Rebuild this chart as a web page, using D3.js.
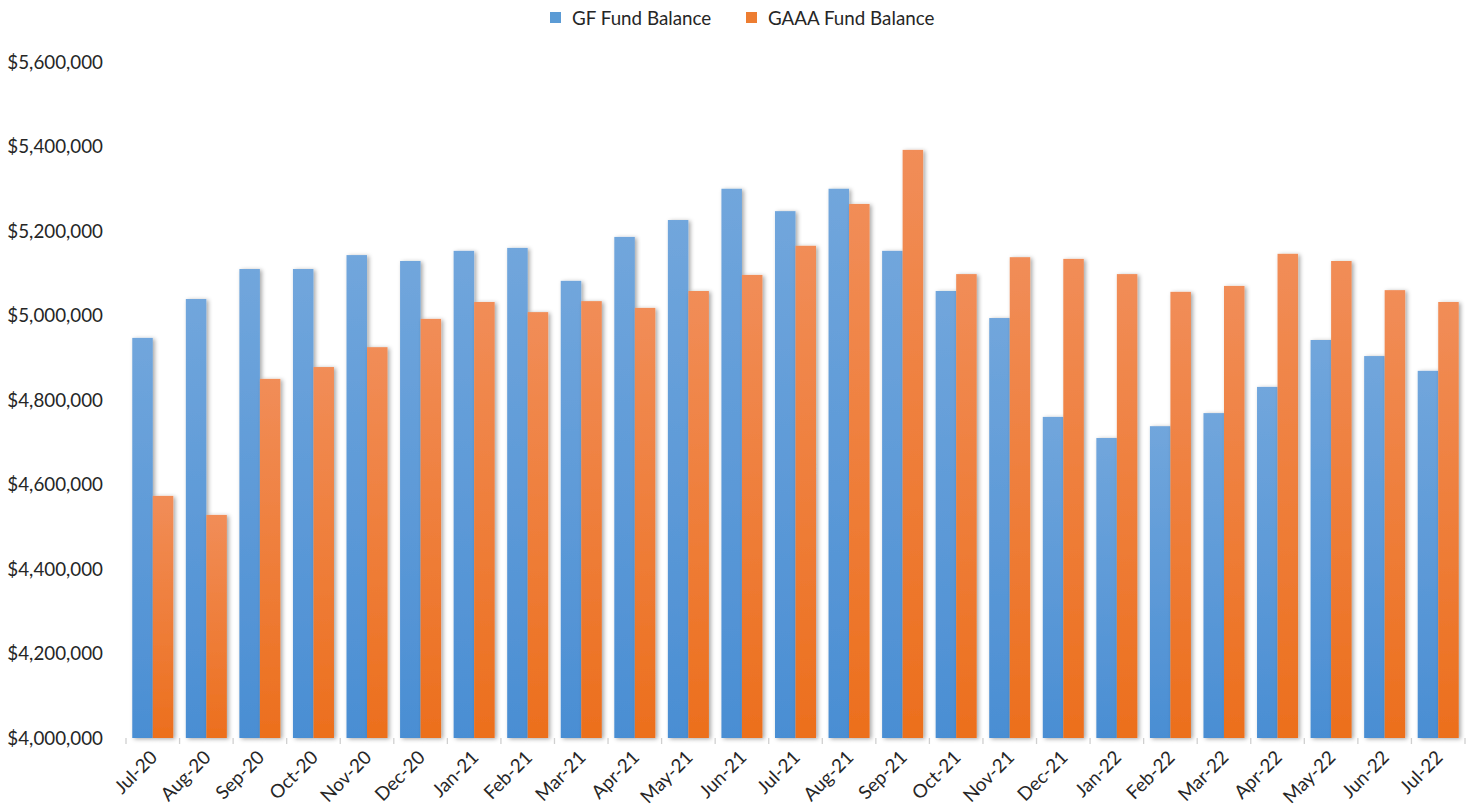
<!DOCTYPE html>
<html>
<head>
<meta charset="utf-8">
<style>
  body { margin: 0; background: #fff; }
  text { font-family: Lato, "Open Sans", sans-serif; fill: #262626; }
</style>
</head>
<body>
<svg width="1474" height="808"></svg>
<script src="https://d3js.org/d3.v7.min.js"></script>
<script>
    var months = ["Jul-20", "Aug-20", "Sep-20", "Oct-20", "Nov-20", "Dec-20",
        "Jan-21", "Feb-21", "Mar-21", "Apr-21", "May-21", "Jun-21",
        "Jul-21", "Aug-21", "Sep-21", "Oct-21", "Nov-21", "Dec-21",
        "Jan-22", "Feb-22", "Mar-22", "Apr-22", "May-22", "Jun-22", "Jul-22"];
    var gfBalance = [4947000, 5039000, 5110000, 5110000, 5143000, 5129000,
        5153000, 5160000, 5082000, 5186000, 5226000, 5300000,
        5247000, 5300000, 5153000, 5058000, 4994000, 4760000,
        4710000, 4738000, 4769000, 4831000, 4942000, 4904000, 4869000];
    var gaaaBalance = [4573000, 4528000, 4850000, 4878000, 4925000, 4992000,
        5032000, 5008000, 5034000, 5018000, 5058000, 5096000,
        5165000, 5264000, 5392000, 5098000, 5138000, 5134000,
        5098000, 5056000, 5070000, 5146000, 5129000, 5060000, 5032000];
    var seriesNames = ["GF Fund Balance", "GAAA Fund Balance"];
    var yTicks = [4000000, 4200000, 4400000, 4600000, 4800000, 5000000, 5200000, 5400000, 5600000];

    var svg = d3.select("svg");
    var plotLeft = 126, plotRight = 1465, plotTop = 62, plotBottom = 738;
    var gap = 0.234;

    var defs = svg.append("defs");
    var grads = [["gradBlue", "#71a6dc", "#4a8ed3"], ["gradOrange", "#f18d58", "#ec6f1d"]];
    grads.forEach(function(g) {
        var lg = defs.append("linearGradient").attr("id", g[0])
            .attr("x1", 0).attr("y1", 0).attr("x2", 0).attr("y2", 1);
        lg.append("stop").attr("offset", "0%").attr("stop-color", g[1]);
        lg.append("stop").attr("offset", "100%").attr("stop-color", g[2]);
    });
    defs.append("filter").attr("id", "shadow")
        .attr("x", "-30%").attr("y", "-10%").attr("width", "160%").attr("height", "130%")
        .append("feDropShadow").attr("dx", 2).attr("dy", 1).attr("stdDeviation", 2)
        .attr("flood-color", "#000").attr("flood-opacity", 0.35);
    defs.append("filter").attr("id", "lineShadow")
        .attr("x", "-5%").attr("y", "-200%").attr("width", "110%").attr("height", "500%")
        .append("feDropShadow").attr("dx", 0).attr("dy", 1).attr("stdDeviation", 1)
        .attr("flood-color", "#000").attr("flood-opacity", 0.2);

    var x = d3.scaleBand().domain(months).range([plotLeft, plotRight])
        .paddingInner(gap).paddingOuter(gap / 2);
    var xSub = d3.scaleBand().domain([0, 1]).range([0, x.bandwidth()]);
    var y = d3.scaleLinear().domain([4000000, 5600000]).range([plotBottom, plotTop]);
    var colors = ["url(#gradBlue)", "url(#gradOrange)"];
    var legendColors = ["#5b9bd5", "#ed7d31"];

    // gridlines
    svg.append("g").selectAll("line").data(yTicks.slice(1)).join("line")
        .attr("x1", plotLeft).attr("x2", plotRight)
        .attr("y1", function(d) { return y(d); })
        .attr("y2", function(d) { return y(d); })
        .attr("stroke", "#d9d9d9").attr("stroke-width", 1.3)
        .attr("filter", "url(#lineShadow)");

    // y labels
    svg.append("g").selectAll("text").data(yTicks).join("text")
        .attr("x", plotLeft - 23)
        .attr("y", function(d) { return y(d); })
        .attr("dy", "0.35em")
        .attr("text-anchor", "end")
        .style("font-size", "18.8px")
        .text(function(d) { return "$" + d3.format(",")(d); });

    // bars
    var rows = months.map(function(m, i) { return [m, [gfBalance[i], gaaaBalance[i]]]; });
    var groups = svg.append("g").selectAll("g").data(rows).join("g")
        .attr("transform", function(d) { return "translate(" + x(d[0]) + ",0)"; });
    groups.selectAll("rect").data(function(d) { return d[1]; }).join("rect")
        .attr("x", function(d, i) { return xSub(i); })
        .attr("y", function(d) { return y(d); })
        .attr("width", xSub.bandwidth())
        .attr("height", function(d) { return plotBottom - y(d); })
        .attr("fill", function(d, i) { return colors[i]; })
        .attr("filter", "url(#shadow)");

    // x axis line and ticks at category boundaries
    var axis = svg.append("g");
    axis.append("line").attr("x1", plotLeft).attr("x2", plotRight)
        .attr("y1", plotBottom + 0.5).attr("y2", plotBottom + 0.5)
        .attr("stroke", "#d0d0d0").attr("stroke-width", 1.3)
        .attr("filter", "url(#lineShadow)");
    var bounds = d3.range(months.length + 1).map(function(i) { return plotLeft + i * x.step(); });
    axis.selectAll("line.tick").data(bounds).join("line").attr("class", "tick")
        .attr("x1", function(d) { return d; }).attr("x2", function(d) { return d; })
        .attr("y1", plotBottom).attr("y2", plotBottom + 6)
        .attr("stroke", "#d0d0d0").attr("stroke-width", 1.3);

    // x labels
    axis.selectAll("text").data(months).join("text")
        .attr("transform", function(d) {
            return "translate(" + (x(d) + x.bandwidth() / 2 + 1) + "," + (plotBottom + 16) + ") rotate(-45)";
        })
        .attr("text-anchor", "end")
        .attr("dy", "0.35em")
        .style("font-size", "18.8px")
        .text(function(d) { return d; });

    // legend
    var legend = svg.append("g");
    var legendX = [550, 746];
    seriesNames.forEach(function(name, i) {
        legend.append("rect").attr("x", legendX[i]).attr("y", 12)
            .attr("width", 11).attr("height", 11)
            .attr("fill", legendColors[i]);
        legend.append("text").attr("x", legendX[i] + 22).attr("y", 18)
            .attr("dy", "0.35em")
            .style("font-size", "18.8px")
            .text(name);
    });
</script>
</body>
</html>
